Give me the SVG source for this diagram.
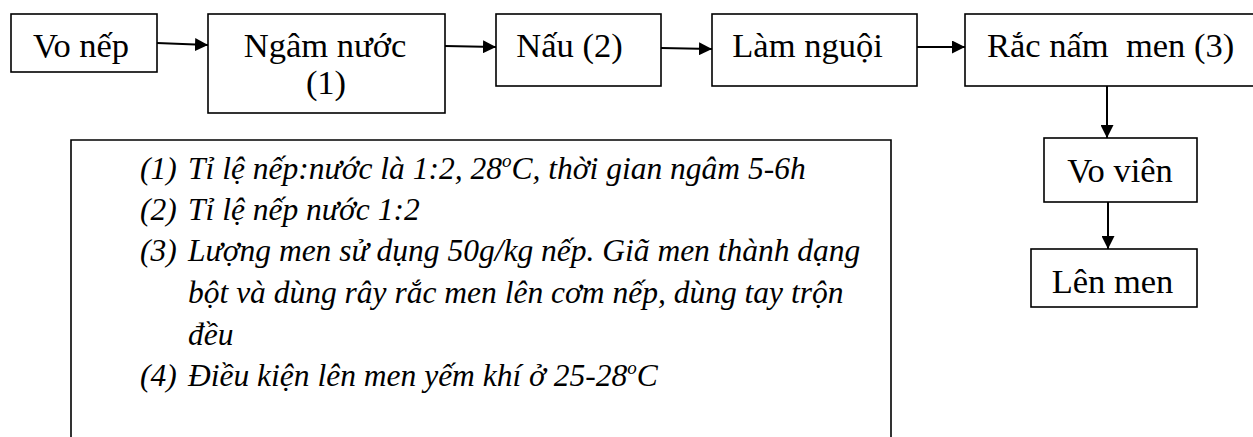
<svg xmlns="http://www.w3.org/2000/svg" width="1253" height="437" viewBox="0 0 1253 437">
<defs>
<style>
.box{fill:#fff;stroke:#000;stroke-width:1.6}
.lbl{font-family:'Liberation Serif',Tinos,'Times New Roman','DejaVu Serif',serif;font-size:34.5px;fill:#000;white-space:pre}
.note{font-family:'Liberation Serif',Tinos,'Times New Roman','DejaVu Serif',serif;font-size:31.5px;font-style:italic;fill:#000}
.con{stroke:#000;stroke-width:2;fill:none;marker-end:url(#ah)}
</style>
<marker id="ah" viewBox="0 0 10 10" refX="10" refY="5" markerWidth="13" markerHeight="13" markerUnits="userSpaceOnUse" orient="auto">
<path d="M0,0 L10,5 L0,10 z" fill="#000"/>
</marker>
</defs>
<rect width="1253" height="437" fill="#fff"/>
<g id="connectors">
<line class="con" x1="157" y1="43" x2="208" y2="45"/>
<line class="con" x1="445" y1="46" x2="496" y2="47"/>
<line class="con" x1="661" y1="48" x2="712" y2="49"/>
<line class="con" x1="917" y1="47" x2="965" y2="47"/>
<line class="con" x1="1107" y1="86" x2="1107" y2="138"/>
<line class="con" x1="1108" y1="202" x2="1108" y2="249"/>
</g>
<g id="vo-nep">
<rect class="box" x="11" y="14" width="146" height="58"/>
<text class="lbl" x="81" y="57" text-anchor="middle">Vo nếp</text>
</g>
<g id="ngam-nuoc">
<rect class="box" x="208" y="14" width="237" height="99"/>
<text class="lbl" x="325" y="57" text-anchor="middle">Ngâm nước</text>
<text class="lbl" x="326" y="94" text-anchor="middle">(1)</text>
</g>
<g id="nau">
<rect class="box" x="496" y="14" width="165" height="72"/>
<text class="lbl" x="569.5" y="57" text-anchor="middle">Nấu (2)</text>
</g>
<g id="lam-nguoi">
<rect class="box" x="712" y="14" width="205" height="72"/>
<text class="lbl" x="807.5" y="57" text-anchor="middle">Làm nguội</text>
</g>
<g id="rac-nam-men">
<rect class="box" x="965" y="14" width="300" height="72"/>
<text class="lbl" x="987" y="57">Rắc nấm  men (3)</text>
</g>
<g id="vo-vien">
<rect class="box" x="1044" y="138" width="153" height="64"/>
<text class="lbl" x="1120" y="182" text-anchor="middle">Vo viên</text>
</g>
<g id="len-men">
<rect class="box" x="1031" y="249" width="166" height="58"/>
<text class="lbl" x="1112.5" y="293" text-anchor="middle">Lên men</text>
</g>
<g id="notes">
<path d="M71,460 V140 H891 V460" fill="none" stroke="#000" stroke-width="1.6"/>
<text class="note" x="140" y="179">(1)<tspan x="188">Tỉ lệ nếp:nước là 1:2, 28<tspan font-size="19" dy="-12">o</tspan><tspan dy="12">C, thời gian ngâm 5-6h</tspan></tspan></text>
<text class="note" x="140" y="220">(2)<tspan x="188">Tỉ lệ nếp nước 1:2</tspan></text>
<text class="note" x="140" y="261">(3)<tspan x="188">Lượng men sử dụng 50g/kg nếp. Giã men thành dạng</tspan></text>
<text class="note" x="188" y="303">bột và dùng rây rắc men lên cơm nếp, dùng tay trộn</text>
<text class="note" x="188" y="345">đều</text>
<text class="note" x="140" y="386">(4)<tspan x="188">Điều kiện lên men yếm khí ở 25-28<tspan font-size="19" dy="-12">o</tspan><tspan dy="12">C</tspan></tspan></text>
</g>
</svg>
